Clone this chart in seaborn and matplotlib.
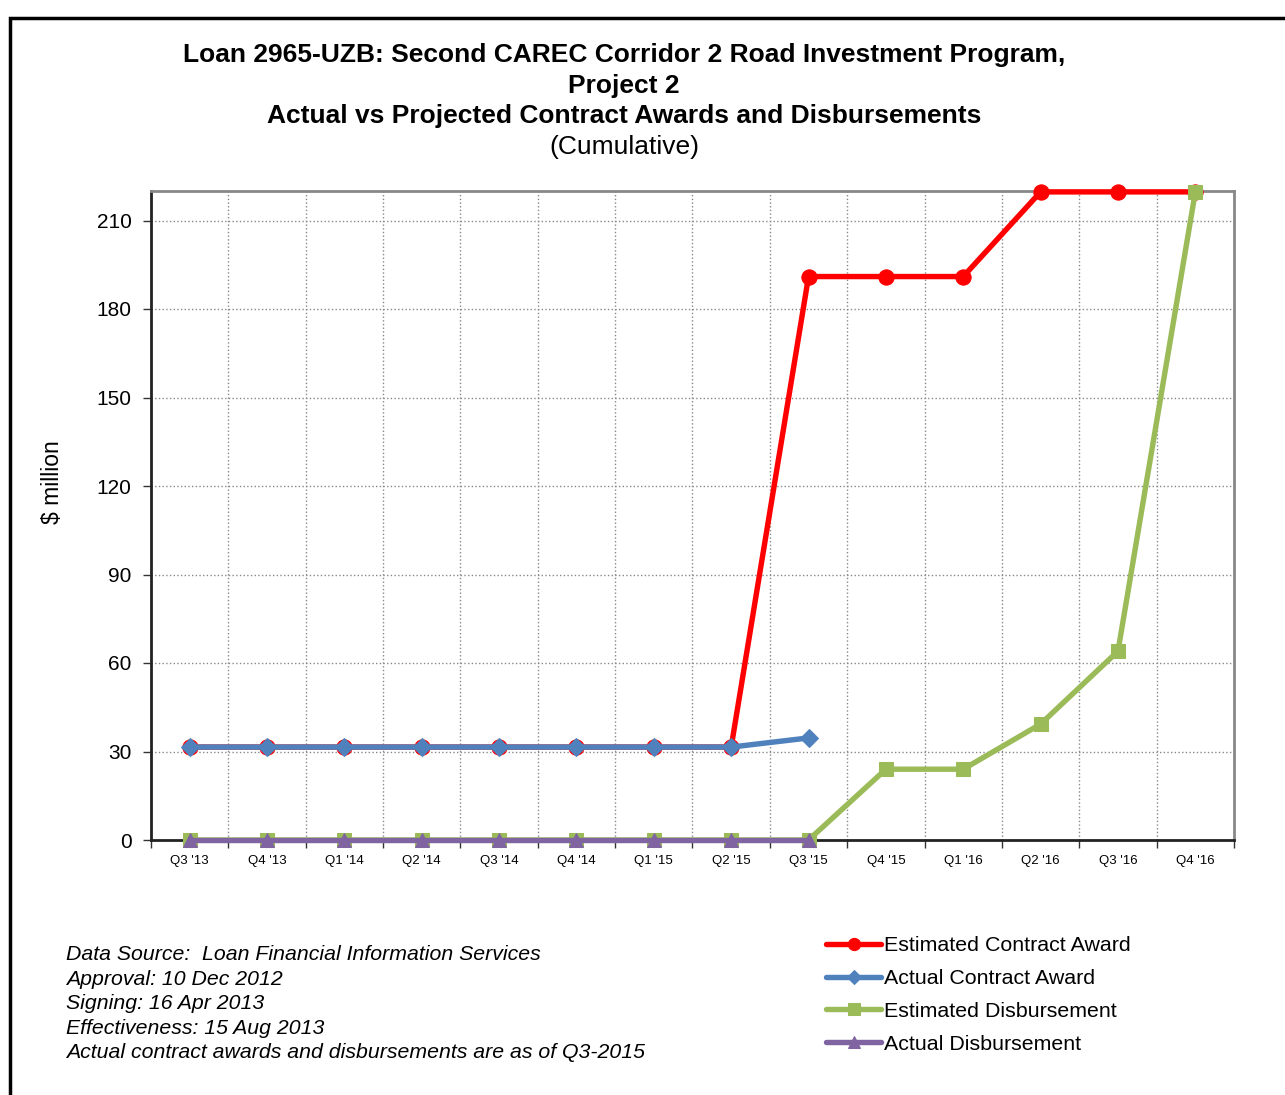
import numpy as np
import pandas as pd
import matplotlib
matplotlib.use('Agg')
import matplotlib.pyplot as plt
from matplotlib.patches import Rectangle
from matplotlib.ticker import FixedLocator
import seaborn as sns

sns.set_style('white')
plt.rcParams['font.family'] = ['Liberation Sans', 'DejaVu Sans']
plt.rcParams['text.color'] = 'black'
plt.rcParams['axes.labelcolor'] = 'black'
plt.rcParams['xtick.color'] = 'black'
plt.rcParams['ytick.color'] = 'black'

# data (cumulative, $ million)
quarters = ["Q3 '13", "Q4 '13", "Q1 '14", "Q2 '14", "Q3 '14", "Q4 '14", "Q1 '15",
            "Q2 '15", "Q3 '15", "Q4 '15", "Q1 '16", "Q2 '16", "Q3 '16", "Q4 '16"]
est_award = [31.5, 31.5, 31.5, 31.5, 31.5, 31.5, 31.5, 31.5, 191.0, 191.0, 191.0, 219.7, 219.7, 219.7]
act_award = [31.5, 31.5, 31.5, 31.5, 31.5, 31.5, 31.5, 31.5, 34.6]
est_disb = [0, 0, 0, 0, 0, 0, 0, 0, 0, 24.0, 24.0, 39.3, 64.0, 219.7]
act_disb = [0, 0, 0, 0, 0, 0, 0, 0, 0]

notes = ["Data Source:  Loan Financial Information Services",
         "Approval: 10 Dec 2012",
         "Signing: 16 Apr 2013",
         "Effectiveness: 15 Aug 2013",
         "Actual contract awards and disbursements are as of Q3-2015"]

series = [
    ('Estimated Contract Award', est_award, '#FF0000', 'o', 11),
    ('Actual Contract Award', act_award, '#4F81BD', 'D', 9),
    ('Estimated Disbursement', est_disb, '#9BBB59', 's', 10),
    ('Actual Disbursement', act_disb, '#8064A2', '^', 10),
]

W, H = 1285, 1095
fig = plt.figure(figsize=(W / 100, H / 100), dpi=100)
ax = fig.add_axes([151 / W, 1 - 840 / H, (1234 - 151) / W, (840 - 191) / H])

for i, (name, vals, col, mk, ms) in enumerate(series):
    df = pd.DataFrame({'x': np.arange(len(vals)), 'y': vals})
    sns.lineplot(data=df, x='x', y='y', ax=ax, color=col, linewidth=3.9,
                 marker=mk, markersize=ms, markeredgecolor=col, label=name,
                 clip_on=False, zorder=3 + i)

ax.set_xlim(-0.5, len(quarters) - 0.5)
ax.set_ylim(0, 220)
ax.set_xticks(np.arange(len(quarters)))
ax.set_xticklabels(quarters, fontsize=9.5)
ax.xaxis.set_minor_locator(FixedLocator(np.arange(len(quarters) + 1) - 0.5))
ax.tick_params(axis='x', which='major', length=0, pad=11)
ax.tick_params(axis='x', which='minor', length=6, width=1, color='#333333', direction='out', bottom=True)
ax.set_yticks(np.arange(0, 211, 30))
ax.tick_params(axis='y', labelsize=15, length=6, width=1, color='#333333', direction='out', left=True, pad=8)
ax.set_xlabel('')
ax.set_ylabel('$ million', fontsize=16.5)
ax.yaxis.set_label_coords(-0.080, (840 - 482) / 649)

ax.grid(True, axis='y', which='major', linestyle=':', color='#888888', linewidth=1)
ax.grid(True, axis='x', which='minor', linestyle=':', color='#888888', linewidth=1)
ax.set_axisbelow(True)

for s in ['left', 'bottom']:
    ax.spines[s].set_color('#222222')
    ax.spines[s].set_linewidth(2)
for s in ['top', 'right']:
    ax.spines[s].set_color('#888888')
    ax.spines[s].set_linewidth(2)

handles, labels = ax.get_legend_handles_labels()
ax.get_legend().remove()
fig.legend(handles, labels, loc='upper left', bbox_to_anchor=(807 / W, 1 - 917 / H),
           frameon=False, fontsize=15.4, handlelength=2.55, handletextpad=0.15,
           labelspacing=0.645, markerscale=0.8)

# titles
cx = 624 / W
fig.text(cx, 1 - 55 / H, 'Loan 2965-UZB: Second CAREC Corridor 2 Road Investment Program,',
         ha='center', va='center', fontsize=19, fontweight='bold')
fig.text(cx, 1 - 86 / H, 'Project 2', ha='center', va='center', fontsize=19, fontweight='bold')
fig.text(cx, 1 - 116 / H, 'Actual vs Projected Contract Awards and Disbursements',
         ha='center', va='center', fontsize=19, fontweight='bold')
fig.text(cx, 1 - 147 / H, '(Cumulative)', ha='center', va='center', fontsize=19)

# notes
for k, line in enumerate(notes):
    fig.text(66 / W, 1 - (955 + 24.4 * k) / H, line, ha='left', va='center',
             fontsize=15.3, style='italic')

# outer frame
fig.patches.append(Rectangle((10 / W, -0.1), 2, 1.1 - 18 / H, transform=fig.transFigure,
                             fill=False, edgecolor='black', linewidth=2.5))

fig.savefig('out.png', dpi=100)
